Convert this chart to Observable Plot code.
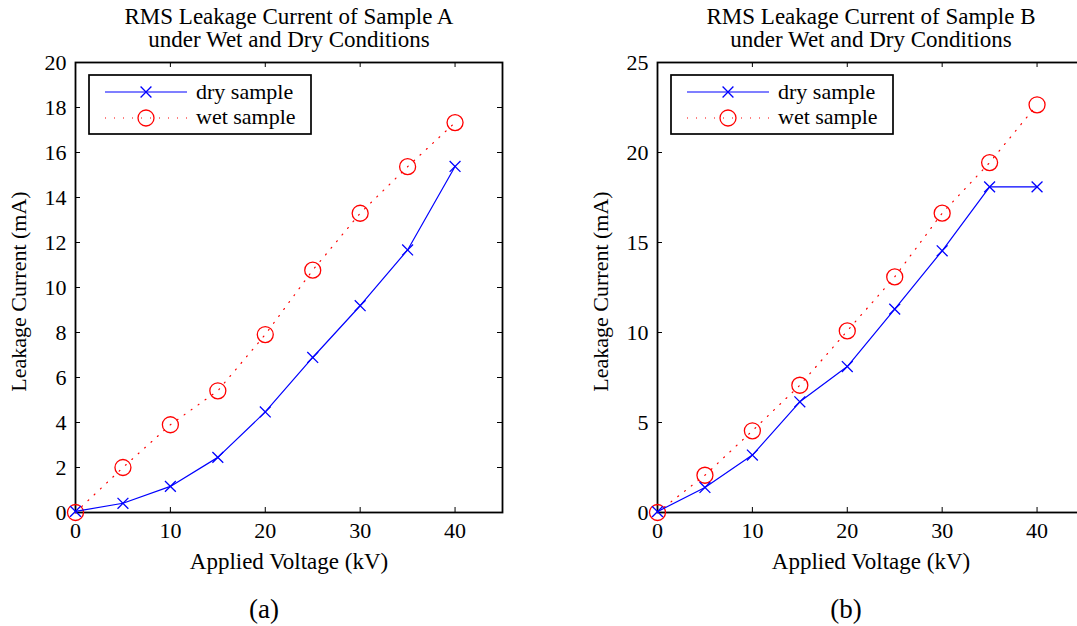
<!DOCTYPE html>
<html><head><meta charset="utf-8">
<script src="https://cdn.jsdelivr.net/npm/d3@7"></script>
<script src="https://cdn.jsdelivr.net/npm/@observablehq/plot@0.6"></script>
<style>
body{margin:0;background:#fff;}
#wrap{position:relative;width:1077px;height:626px;overflow:hidden;background:#fff;font-family:"Liberation Serif",serif;}
.panel{position:absolute;top:0;width:540px;height:626px;}
.panel svg{position:absolute;left:0;top:0;}
</style></head><body><div id="wrap"></div>
<script>
// ---- data ----
const voltage = [0, 5, 10, 15, 20, 25, 30, 35, 40];
const dryA = [0.05, 0.41, 1.16, 2.45, 4.47, 6.89, 9.19, 11.67, 15.38];
const wetA = [0, 2.0, 3.9, 5.41, 7.91, 10.77, 13.3, 15.37, 17.33];
const dryB = [0.05, 1.39, 3.19, 6.15, 8.11, 11.3, 14.54, 18.09, 18.09];
const wetB = [0, 2.07, 4.54, 7.07, 10.09, 13.09, 16.63, 19.44, 22.65];
const xTicks = [0, 10, 20, 30, 40];
const yTicksA = [0, 2, 4, 6, 8, 10, 12, 14, 16, 18, 20];
const yTicksB = [0, 5, 10, 15, 20, 25];
const titleA = ["RMS Leakage Current of Sample A", "under Wet and Dry Conditions"];
const titleB = ["RMS Leakage Current of Sample B", "under Wet and Dry Conditions"];
const seriesNames = ["dry sample", "wet sample"];
const xLabel = "Applied Voltage (kV)";
const yLabel = "Leakage Current (mA)";
const panelTags = ["(a)", "(b)"];

const BLUE = "#0000ff", RED = "#ff0000";
const W = 540, H = 626, mL = 75, mR = 38, mT = 62, mB = 114;
const fw = W - mL - mR, fh = H - mT - mB;
const FONT = "Liberation Serif";

function makePanel(dry, wet, yMax, yTicks, title, tag, left) {
  const dryData = voltage.map((v, i) => ({v, c: dry[i]}));
  const wetData = voltage.map((v, i) => ({v, c: wet[i]}));
  const tickStyle = {stroke: "black", strokeOpacity: 1, strokeWidth: 1};
  const plot = Plot.plot({
    width: W, height: H,
    marginLeft: mL, marginRight: mR, marginTop: mT, marginBottom: mB,
    style: {fontFamily: FONT, fontSize: "22px", background: "white", overflow: "visible", color: "black"},
    x: {domain: [0, 45]},
    y: {domain: [0, yMax]},
    marks: [
      Plot.gridX(xTicks, {...tickStyle, insetTop: fh - 5}),
      Plot.gridX(xTicks, {...tickStyle, insetBottom: fh - 5}),
      Plot.gridY(yTicks, {...tickStyle, insetRight: fw - 5}),
      Plot.gridY(yTicks, {...tickStyle, insetLeft: fw - 5}),
      Plot.frame({stroke: "black", strokeWidth: 1.8}),
      Plot.axisX(xTicks, {tickSize: 0, tickPadding: 10, label: null, fontSize: 22}),
      Plot.axisY(yTicks, {tickSize: 0, tickPadding: 9, label: null, fontSize: 22}),
      Plot.line(wetData, {x: "v", y: "c", stroke: RED, strokeWidth: 1.2, strokeDasharray: "1,7.6"}),
      Plot.dot(wetData, {x: "v", y: "c", r: 8, stroke: RED, strokeWidth: 1.3, fill: "none"}),
      Plot.line(dryData, {x: "v", y: "c", stroke: BLUE, strokeWidth: 1.2}),
      Plot.dot(dryData, {x: "v", y: "c", r: 5, symbol: "times", stroke: BLUE, strokeWidth: 1.3}),
      Plot.text([title.join("\n")], {frameAnchor: "top", textAnchor: "middle", lineAnchor: "top", dy: -55, lineHeight: 1.0, fontSize: 23, fontFamily: FONT}),
      Plot.text([xLabel], {frameAnchor: "bottom", textAnchor: "middle", lineAnchor: "middle", dy: 49, fontSize: 23, fontFamily: FONT}),
      Plot.text([yLabel], {frameAnchor: "left", textAnchor: "middle", lineAnchor: "middle", rotate: -90, dx: -57, dy: 4, fontSize: 22, fontFamily: FONT}),
      Plot.text([tag], {frameAnchor: "bottom", textAnchor: "middle", lineAnchor: "middle", dx: -25, dy: 97, fontSize: 27, fontFamily: FONT})
    ]
  });
  const div = document.createElement("div");
  div.className = "panel";
  div.style.left = left + "px";
  div.appendChild(plot);
  // legend overlay
  const svg = d3.create("svg").attr("width", W).attr("height", H).style("overflow", "visible");
  const g = svg.append("g");
  g.append("rect").attr("x", 89).attr("y", 75).attr("width", 222).attr("height", 59)
    .attr("fill", "white").attr("stroke", "black").attr("stroke-width", 1.7);
  // row 1: dry
  g.append("line").attr("x1", 105).attr("x2", 187).attr("y1", 92).attr("y2", 92)
    .attr("stroke", BLUE).attr("stroke-width", 1.2);
  g.append("path").attr("d", d3.symbol(d3.symbolTimes, 25 * Math.PI)())
    .attr("transform", "translate(146,92)").attr("fill", "none").attr("stroke", BLUE).attr("stroke-width", 1.3);
  g.append("text").attr("x", 196).attr("y", 99).attr("font-family", FONT).attr("font-size", 22).text(seriesNames[0]);
  // row 2: wet
  g.append("line").attr("x1", 105).attr("x2", 187).attr("y1", 118).attr("y2", 118)
    .attr("stroke", RED).attr("stroke-width", 1.2).attr("stroke-dasharray", "1,8");
  g.append("circle").attr("cx", 146).attr("cy", 118).attr("r", 8)
    .attr("fill", "none").attr("stroke", RED).attr("stroke-width", 1.3);
  g.append("text").attr("x", 196).attr("y", 124).attr("font-family", FONT).attr("font-size", 22).text(seriesNames[1]);
  div.appendChild(svg.node());
  document.getElementById("wrap").appendChild(div);
}

makePanel(dryA, wetA, 20, yTicksA, titleA, panelTags[0], 0);
makePanel(dryB, wetB, 25, yTicksB, titleB, panelTags[1], 582);
</script>
</body></html>
